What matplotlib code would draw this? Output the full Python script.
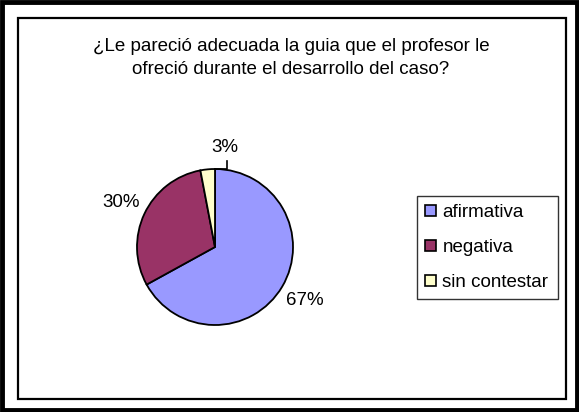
import numpy as np
import matplotlib.pyplot as plt
from matplotlib.patches import Rectangle, Patch

plt.rcParams['font.family'] = ['Liberation Sans', 'DejaVu Sans']

labels = ['afirmativa', 'negativa', 'sin contestar']
values = [67, 30, 3]
colors = ['#9999FF', '#993366', '#FFFFCC']
title = '¿Le pareció adecuada la guia que el profesor le\nofreció durante el desarrollo del caso?'

W, H = 579, 412
fs = 13.5
fig = plt.figure(figsize=(W / 100, H / 100), dpi=100)

# frames
fig.patches.append(Rectangle((2 / W, 2 / H), 1 - 4 / W, 1 - 4 / H, transform=fig.transFigure,
                             fill=False, edgecolor='black', linewidth=3.5))
fig.patches.append(Rectangle((17.5 / W, 1 - 399 / H), 548 / W, 381 / H, transform=fig.transFigure,
                             fill=False, edgecolor='black', linewidth=1.6))

fig.text(291 / W, 1 - 58 / H, title, ha='center', va='center', fontsize=fs, linespacing=1.45)

# pie
cx, cy, r = 215, 247, 78
ax = fig.add_axes([(cx - r) / W, 1 - (cy + r) / H, 2 * r / W, 2 * r / H])
wedges, _ = ax.pie(values, colors=colors, startangle=90, counterclock=False,
                   wedgeprops=dict(edgecolor='black', linewidth=1.3))
ax.set_xlim(-1, 1)
ax.set_ylim(-1, 1)
ax.set_aspect('equal')
ax.axis('off')

for w, v, d in zip(wedges[:2], values[:2], [1.34, 1.33]):
    mid = np.deg2rad((w.theta1 + w.theta2) / 2)
    ax.text(d * np.cos(mid), d * np.sin(mid), f'{v}%', ha='center', va='center',
            fontsize=fs, clip_on=False)

# small label with leader line, starting at the top edge of the slice
w = wedges[2]
a = np.deg2rad(min(w.theta1, w.theta2))
x0, y0 = np.cos(a), np.sin(a)
ax.plot([x0, x0 + 0.15, x0 + 0.15], [y0, y0, y0 + 0.1], color='black', lw=1.2, clip_on=False)
ax.text(x0 + 0.13, y0 + 0.27, f'{values[2]}%', ha='center', va='center', fontsize=fs,
        clip_on=False)

handles = [Patch(facecolor=c, edgecolor='black', linewidth=1.2) for c in colors]
leg = fig.legend(handles, labels, loc='center left',
                 bbox_to_anchor=(417 / W, 1 - 297 / H, 141 / W, 99 / H), mode='expand',
                 fontsize=fs, frameon=True, fancybox=False, borderaxespad=0,
                 handlelength=0.55, handleheight=0.55, handletextpad=0.35,
                 labelspacing=0.95, borderpad=0.45)
leg.get_frame().set_edgecolor('black')
leg.get_frame().set_linewidth(1.0)

fig.savefig('out.png', dpi=100)
